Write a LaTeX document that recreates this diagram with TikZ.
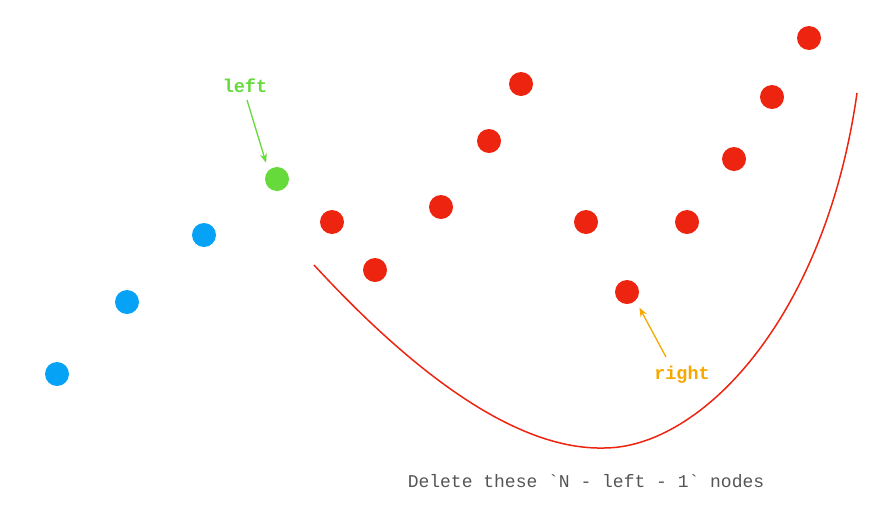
\documentclass[tikz,border=0pt]{standalone}
\usepackage{fontspec}
\setmonofont{Liberation Mono}
\definecolor{dotBlue}{HTML}{05A2F5}
\definecolor{dotGreen}{HTML}{66D93B}
\definecolor{dotRed}{HTML}{EC2410}
\definecolor{lblOrange}{HTML}{F5A800}
\definecolor{txtGray}{HTML}{555555}
\usetikzlibrary{arrows.meta,positioning}

\begin{document}
\begin{tikzpicture}[
    x=1pt, y=-1pt,
    dot/.style={circle, minimum size=24pt, inner sep=0pt},
    lbl/.style={font=\ttfamily\bfseries\fontsize{18.5}{20}\selectfont},
    arr/.style={-{Stealth[length=9pt,width=7pt]}, line width=1.3pt, shorten >=8pt}
  ]
    \useasboundingbox (0,0) rectangle (876,512);

    % kept nodes
    \node[dot, fill=dotBlue] (b1) at (57,374) {};
    \node[dot, fill=dotBlue] (b2) at (127,302) {};
    \node[dot, fill=dotBlue] (b3) at (204,235) {};
    \node[dot, fill=dotGreen] (lnode) at (277,179) {};

    % nodes to delete
    \foreach \px/\py [count=\i] in {332/222, 375/270, 441/207, 489/141, 521/84,
        586/222, 627/292, 687/222, 734/159, 772/97, 809/38}
      \node[dot, fill=dotRed] (r\i) at (\px,\py) {};

    % pointers
    \node[lbl, text=dotGreen] (ltxt) at (245,86) {left};
    \coordinate (ls) at (247,100);
    \draw[arr, dotGreen] (ls) -- (lnode.north west);
    \node[lbl, text=lblOrange] (rtxt) at (682,375) {right};
    \coordinate (rs) at (666,357);
    \draw[arr, lblOrange] (rs) -- (r7.south east);

    % brace curve
    \coordinate (c1) at (314,265);
    \coordinate (c2) at (604,448);
    \coordinate (c3) at (857,93);
    \draw[dotRed, line width=1.5pt] (c1) .. controls (420,380) and (520,450) .. (c2)
                              .. controls (700,448) and (825,320) .. (c3);

    \node[font=\ttfamily\fontsize{18}{20}\selectfont, text=txtGray] (note) at (586,481)
      {Delete these `N - left - 1` nodes};
  \end{tikzpicture}
\end{document}
